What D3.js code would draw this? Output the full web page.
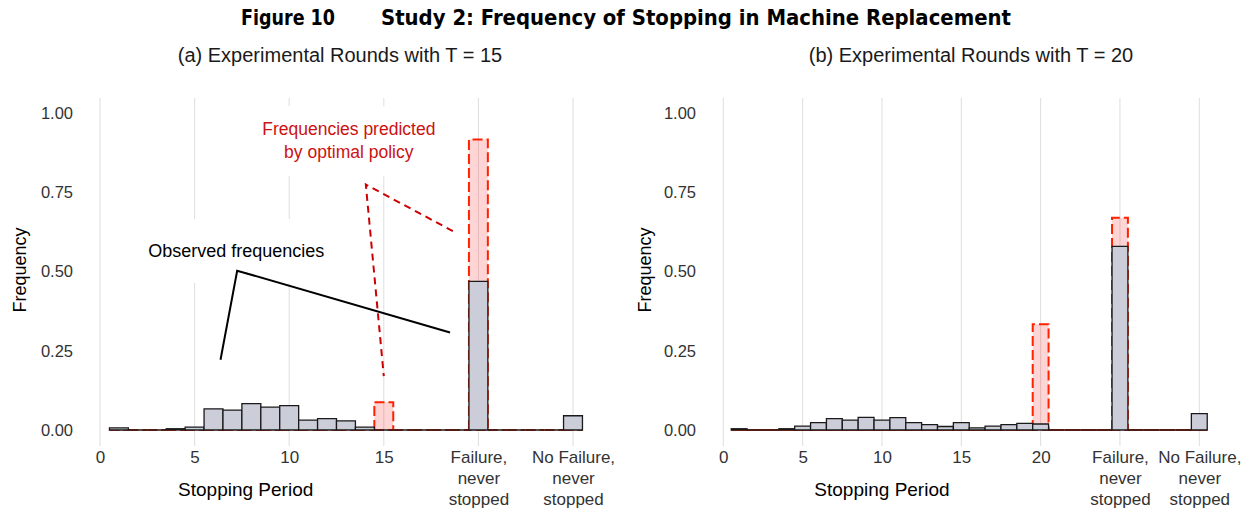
<!DOCTYPE html>
<html>
<head>
<meta charset="utf-8">
<script src="https://cdn.jsdelivr.net/npm/d3@7"></script>
<style>
  html, body { margin: 0; padding: 0; background: #fff; }
  svg text { font-family: "Liberation Sans", Arial, Helvetica, sans-serif; }
</style>
</head>
<body>
<svg id="chart" width="1255" height="513"></svg>
<script>
// ---------------- DATA ----------------
const figureNumber = "Figure 10";
const figureTitle = "Study 2: Frequency of Stopping in Machine Replacement";
const panelTitles = ["(a) Experimental Rounds with T = 15", "(b) Experimental Rounds with T = 20"];
const xAxisTitle = "Stopping Period";
const yAxisTitle = "Frequency";

// Panel (a): positions 1..25 (20 = "Failure, never stopped", 25 = "No Failure, never stopped")
const positionsA = d3.range(1, 26);
const observedA = [0.007, 0, 0, 0.004, 0.009, 0.067, 0.063, 0.083, 0.072, 0.077,
                   0.031, 0.036, 0.029, 0.009, 0, 0, 0, 0, 0, 0.469,
                   0, 0, 0, 0, 0.045];
const predictedA = [0, 0, 0, 0, 0, 0, 0, 0, 0, 0,
                    0, 0, 0, 0, 0.088, 0, 0, 0, 0, 0.917,
                    0, 0, 0, 0, 0];
const tickValuesA = [0, 5, 10, 15, 20, 25];
const tickLabelsA = ["0", "5", "10", "15", "Failure,\nnever\nstopped", "No Failure,\nnever\nstopped"];

// Panel (b): positions 1..30 (25 = "Failure, never stopped", 30 = "No Failure, never stopped")
const positionsB = d3.range(1, 31);
const observedB = [0.004, 0, 0, 0.004, 0.012, 0.023, 0.036, 0.031, 0.040, 0.031,
                   0.039, 0.023, 0.017, 0.011, 0.023, 0.007, 0.012, 0.017, 0.021, 0.019,
                   0, 0, 0, 0, 0.580, 0, 0, 0, 0, 0.052];
const predictedB = [0, 0, 0, 0, 0, 0, 0, 0, 0, 0,
                    0, 0, 0, 0, 0, 0, 0, 0, 0, 0.334,
                    0, 0, 0, 0, 0.670, 0, 0, 0, 0, 0];
const tickValuesB = [0, 5, 10, 15, 20, 25, 30];
const tickLabelsB = ["0", "5", "10", "15", "20", "Failure,\nnever\nstopped", "No Failure,\nnever\nstopped"];

const yTicks = [0, 0.25, 0.5, 0.75, 1];

// Annotations (panel a, data coordinates)
const observedLabel = "Observed frequencies";
const observedLabelPos = [7.2, 0.565];
const observedArrow = [[6.37, 0.222], [7.25, 0.503], [18.5, 0.308]];
const predictedLabel = ["Frequencies predicted", "by optimal policy"];
const predictedLabelPos = [13.15, 0.912];
const predictedArrow = [[18.65, 0.628], [14.05, 0.775], [15.0, 0.17]];

// ---------------- DRAW ----------------
const svg = d3.select("#chart");
const yScale = d3.scaleLinear().domain([0, 1]).range([430, 113.3]);
const panelTop = 98, panelBottom = 446;

svg.append("text").attr("x", 241).attr("y", 25)
  .style("font-family", "'Liberation Sans Narrow', 'DejaVu Sans Condensed', sans-serif")
  .style("font-weight", "bold").style("font-size", "22px").attr("fill", "#000")
  .attr("textLength", 94).attr("lengthAdjust", "spacingAndGlyphs")
  .text(figureNumber);
svg.append("text").attr("x", 381).attr("y", 25)
  .style("font-family", "'Liberation Sans Narrow', 'DejaVu Sans Condensed', sans-serif")
  .style("font-weight", "bold").style("font-size", "22px").attr("fill", "#000")
  .attr("textLength", 630).attr("lengthAdjust", "spacingAndGlyphs")
  .text(figureTitle);

function drawPanel(cfg) {
  const g = svg.append("g");
  const x = d3.scaleLinear().domain(cfg.domain).range(cfg.range);

  // subtitle
  g.append("text").attr("x", cfg.titleX).attr("y", 62).attr("text-anchor", "middle")
    .style("font-size", "20px").attr("fill", "#1a1a1a").text(cfg.title);

  // vertical grid lines
  g.selectAll("line.grid").data(cfg.tickValues).join("line").attr("class", "grid")
    .attr("x1", d => x(d)).attr("x2", d => x(d))
    .attr("y1", panelTop).attr("y2", panelBottom)
    .attr("stroke", "#dedede").attr("stroke-width", 1);

  // label backgrounds (panel a)
  if (cfg.annotate) cfg.annotate.background(g, x);

  // predicted (dashed red, translucent fill)
  g.selectAll("path.pred").data(cfg.positions.map((p, i) => ({ p, v: cfg.predicted[i] })))
    .join("path").attr("class", "pred")
    .attr("d", d => {
      const x0 = x(d.p - 0.5), x1 = x(d.p + 0.5), y0 = yScale(0), y1 = yScale(d.v);
      return `M${x0},${y0}V${y1}H${x1}V${y0}Z`;
    })
    .attr("fill", "rgba(255,0,0,0.17)")
    .attr("stroke", "#ff2200").attr("stroke-width", 2)
    .attr("stroke-dasharray", "10,4");

  // observed bars
  g.selectAll("path.obs").data(cfg.positions.map((p, i) => ({ p, v: cfg.observed[i] })))
    .join("path").attr("class", "obs")
    .attr("d", d => {
      const x0 = x(d.p - 0.5), x1 = x(d.p + 0.5), y0 = yScale(0), y1 = yScale(d.v);
      return `M${x0},${y0}V${y1}H${x1}V${y0}Z`;
    })
    .attr("fill", "#cbcdd9")
    .attr("stroke", "#1a1a1a").attr("stroke-width", 1.3);

  // y axis
  const yAxis = g.append("g").attr("transform", `translate(${cfg.yAxisX},0)`)
    .call(d3.axisLeft(yScale).tickValues(yTicks).tickFormat(d3.format(".2f")).tickSize(0).tickPadding(3));
  yAxis.select(".domain").remove();
  yAxis.selectAll("text").style("font-size", "16.5px").attr("fill", "#333")
    .style("font-family", "'Liberation Sans', Arial, sans-serif");

  // x axis (labels top-aligned)
  const xAxis = g.append("g").attr("transform", `translate(0,${panelBottom})`)
    .call(d3.axisBottom(x).tickValues(cfg.tickValues).tickSize(0).tickPadding(0)
      .tickFormat((d, i) => cfg.tickLabels[i]));
  xAxis.select(".domain").remove();
  xAxis.selectAll("text").each(function (d, i) {
    const t = d3.select(this);
    const lines = cfg.tickLabels[i].split("\n");
    t.text(null).attr("y", 0).attr("dy", null)
      .style("font-size", "17px").attr("fill", "#333")
      .style("font-family", "'Liberation Sans', Arial, sans-serif");
    lines.forEach((ln, j) => {
      t.append("tspan").attr("x", 0).attr("dy", (j === 0 ? 17 : 21) + "px").text(ln);
    });
  });

  // axis titles
  g.append("text").attr("x", x(cfg.xTitlePos)).attr("y", 496).attr("text-anchor", "middle")
    .style("font-size", "19px").attr("fill", "#000").text(xAxisTitle);
  g.append("text").attr("transform", `translate(${cfg.yTitleX},270) rotate(-90)`)
    .attr("text-anchor", "middle").attr("dy", "0.35em")
    .style("font-size", "18px").attr("fill", "#000").text(yAxisTitle);

  if (cfg.annotate) cfg.annotate.foreground(g, x);
}

const annotateA = {
  background(g, x) {
    g.append("rect").attr("x", x(observedLabelPos[0]) - 100).attr("y", yScale(observedLabelPos[1]) - 32)
      .attr("width", 200).attr("height", 64).attr("fill", "#fff");
    g.append("rect").attr("x", x(predictedLabelPos[0]) - 103).attr("y", yScale(predictedLabelPos[1]) - 35)
      .attr("width", 206).attr("height", 70).attr("fill", "#fff");
  },
  foreground(g, x) {
    const line = d3.line().x(d => x(d[0])).y(d => yScale(d[1]));
    g.append("path").attr("d", line(observedArrow)).attr("fill", "none")
      .attr("stroke", "#000").attr("stroke-width", 2);
    g.append("path").attr("d", line(predictedArrow)).attr("fill", "none")
      .attr("stroke", "#cc0000").attr("stroke-width", 2).attr("stroke-dasharray", "7,5");
    g.append("text").attr("x", x(observedLabelPos[0])).attr("y", yScale(observedLabelPos[1]))
      .attr("text-anchor", "middle").attr("dy", "0.35em")
      .style("font-size", "18px").attr("fill", "#000").text(observedLabel);
    const t = g.append("text").attr("x", x(predictedLabelPos[0])).attr("y", yScale(predictedLabelPos[1]))
      .attr("text-anchor", "middle").style("font-size", "17.5px").attr("fill", "#cc1111");
    t.append("tspan").attr("x", x(predictedLabelPos[0])).attr("dy", "-0.35em").text(predictedLabel[0]);
    t.append("tspan").attr("x", x(predictedLabelPos[0])).attr("dy", "1.3em").text(predictedLabel[1]);
  }
};

drawPanel({
  domain: [0, 25], range: [100, 573], positions: positionsA,
  observed: observedA, predicted: predictedA,
  tickValues: tickValuesA, tickLabels: tickLabelsA,
  title: panelTitles[0], titleX: 340, yAxisX: 76, yTitleX: 20, xTitlePos: 7.7,
  annotate: annotateA
});
drawPanel({
  domain: [0, 30], range: [723.3, 1199.3], positions: positionsB,
  observed: observedB, predicted: predictedB,
  tickValues: tickValuesB, tickLabels: tickLabelsB,
  title: panelTitles[1], titleX: 971, yAxisX: 699, yTitleX: 645, xTitlePos: 10,
  annotate: null
});
</script>
</body>
</html>
